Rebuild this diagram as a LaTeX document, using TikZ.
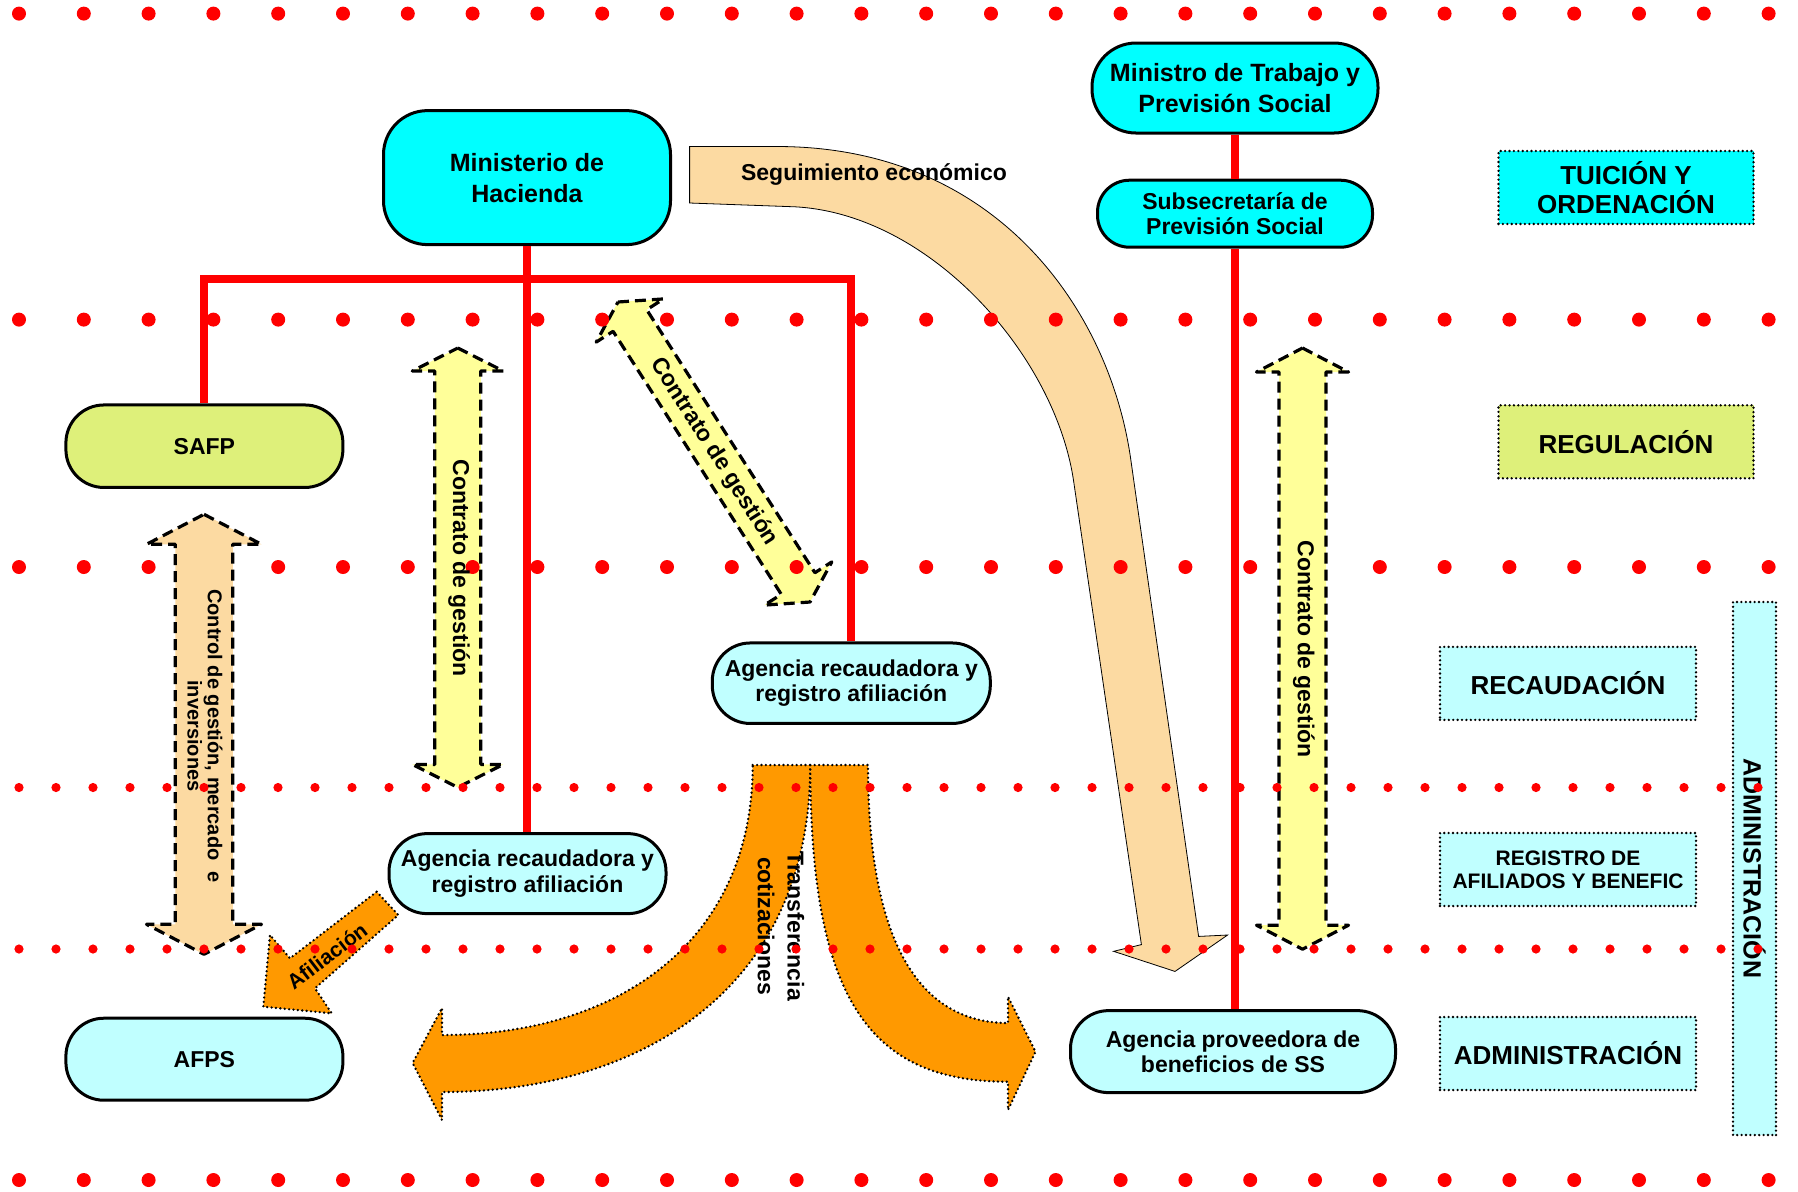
\documentclass[tikz,border=0pt]{standalone}
\usepackage{fontspec}
\setmainfont{Liberation Sans}
\definecolor{boxcyan}{RGB}{0,255,255}
\definecolor{boxlight}{RGB}{192,255,255}
\definecolor{boxlime}{RGB}{222,240,122}
\definecolor{arryellow}{RGB}{255,255,153}
\definecolor{arrtan}{RGB}{252,218,162}
\definecolor{arrorange}{RGB}{255,153,0}
\definecolor{dotred}{RGB}{255,0,0}

\tikzset{every picture/.style={line width=0.75pt}}
\tikzset{
	box/.style={draw, line width=1.5pt, rounded corners=19pt, align=center, inner sep=2pt, font=\bfseries\fontsize{11.5}{12.8}\selectfont},
	lbl/.style={draw, line width=1.3pt, dash pattern=on 0pt off 2.2pt, line cap=round, fill=boxlight, align=center, inner sep=0pt, font=\bfseries\fontsize{13}{14.7}\selectfont, minimum width=128pt, minimum height=36.5pt},
	link/.style={dotred, line width=4pt},
	dashedarrow/.style={draw, line width=1.6pt, dash pattern=on 5.5pt off 3pt, line join=round},
	dottedarrow/.style={draw, fill=arrorange, line width=1.3pt, dash pattern=on 0pt off 2.2pt, line cap=round, line join=round},
	rottext/.style={font=\bfseries\fontsize{11.5}{14.8}\selectfont, align=center, inner sep=0pt}
}

\begin{document}
\begin{tikzpicture}[x=0.5pt,y=0.5pt,yscale=-1]
	\useasboundingbox (0,0) rectangle (1798,1191);

	%Curve Arrow: Seguimiento economico
	\draw [fill=arrtan, line width=0.4pt] (689.6,146.5) -- (777,146.5) .. controls (997,146.5) and (1109.6,310.5) .. (1130.7,459) -- (1198.6,936.4) -- (1227.6,935) -- (1175,971.4) -- (1113.6,951.3) -- (1141.4,944.6) -- (1073.6,481) .. controls (1055,355) and (930,214) .. (795,206.8) -- (689.6,203) -- cycle ;
	%Double Arrow: diagonal contrato
	\draw [dashedarrow, fill=arryellow] (618,302) -- (663.6,298.9) -- (646.7,309.7) -- (814.9,572.7) -- (831.8,561.9) -- (810,602) -- (764.4,605.1) -- (781.3,594.3) -- (613.1,331.3) -- (596.2,342.1) -- cycle ;
	%Double Arrow: left contrato
	\draw [dashedarrow, fill=arryellow] (457.8,348) -- (503.3,371) -- (480.8,371) -- (480.8,764.4) -- (503.3,764.4) -- (457.8,787.4) -- (412.3,764.4) -- (434.8,764.4) -- (434.8,371) -- (412.3,371) -- cycle ;
	%Curve Arrow: transferencia (left)
	\draw [dottedarrow] (752.7,765) -- (810.3,765) .. controls (810.3,990) and (640,1092) .. (442,1092) -- (442,1120) -- (412.6,1063) -- (442,1008) -- (442,1035) .. controls (620,1035) and (752.7,940) .. (752.7,765) -- cycle ;
	%Curve Arrow: transferencia (right)
	\draw [dottedarrow] (810.3,765) -- (868,765) .. controls (868,960) and (930,1023) .. (1008,1023) -- (1008,996.7) -- (1035.5,1051.7) -- (1008,1110) -- (1008,1081.7) .. controls (870,1081.7) and (810.3,1000) .. (810.3,765) -- cycle ;
	%Arrow: afiliacion
	\draw [dottedarrow] (376.7,891.7) -- (398.3,915) -- (315,988.3) -- (331.7,1013.3) -- (263.3,1006.7) -- (270,935) -- (290,958.3) -- cycle ;

	%Big dots
	\foreach \y in {13.6,319.6,567,1180}
		\foreach \k in {0,...,27}
			\fill [dotred] (19+64.8*\k,\y) circle (3.5pt) ;

	%Double Arrow: control
	\draw [dashedarrow, fill=arrtan] (204,514.3) -- (261.5,544.3) -- (232.75,544.3) -- (232.75,924.3) -- (261.5,924.3) -- (204,954.3) -- (146.5,924.3) -- (175.25,924.3) -- (175.25,544.3) -- (146.5,544.3) -- cycle ;
	%Double Arrow: right contrato
	\draw [dashedarrow, fill=arryellow] (1302.5,348) -- (1348.5,372) -- (1326,372) -- (1326,925.2) -- (1348.5,925.2) -- (1302.5,949.2) -- (1256.5,925.2) -- (1279,925.2) -- (1279,372) -- (1256.5,372) -- cycle ;

	% Boxes
	\node [box, fill=boxcyan, rounded corners=22pt, font=\bfseries\fontsize{12.5}{15.5}\selectfont, minimum width=143.5pt, minimum height=67pt] (mh) at (527,177.6) {Ministerio de\\Hacienda};
	\node [box, fill=boxcyan, rounded corners=22pt, font=\bfseries\fontsize{12.5}{15.5}\selectfont, minimum width=143pt, minimum height=45pt] (mt) at (1235,88) {Ministro de Trabajo y\\Previsión Social};
	\node [box, fill=boxcyan, rounded corners=16pt, minimum width=137.5pt, minimum height=33.5pt] (sps) at (1235,213.7) {Subsecretaría de\\Previsión Social};
	\node [box, fill=boxlime, minimum width=138.5pt, minimum height=41.25pt] (safp) at (204.4,446.2) {SAFP};
	\node [box, fill=boxlight, minimum width=138.5pt, minimum height=41pt] (afps) at (204.4,1059.2) {AFPS};
	\node [box, fill=boxlight, minimum width=139pt, minimum height=40.25pt] (aru) at (851.3,683.2) {Agencia recaudadora y\\registro afiliación};
	\node [box, fill=boxlight, minimum width=138.5pt, minimum height=40pt] (arl) at (527.5,873.6) {Agencia recaudadora y\\registro afiliación};
	\node [box, fill=boxlight, minimum width=162.5pt, minimum height=41pt] (apb) at (1233,1051.6) {Agencia proveedora de\\beneficios de SS};

	% Red links
	\coordinate (bar) at (527,278.6);
	\draw [link] (mh.south) -- (mh.south |- arl.north) ;
	\draw [link] (safp.north) |- (bar) -| (aru.north) ;
	\draw [link] (mt.south) -- (sps.north) ;
	\draw [link] (sps.south) -- (sps.south |- apb.north) ;

	% Level labels
	\node [lbl, fill=boxcyan, minimum width=127.5pt] (tuicion) at (1626,187.5) {TUICIÓN Y\\ORDENACIÓN};
	\node [lbl, fill=boxlime, minimum width=127.5pt] (regul) at (1626,441.8) {REGULACIÓN};
	\node [lbl] (recaud) at (1568,683.4) {RECAUDACIÓN};
	\node [lbl, font=\bfseries\fontsize{10.5}{11.3}\selectfont] (registro) at (1568,869.5) {REGISTRO DE\\AFILIADOS Y BENEFIC};
	\node [lbl] (admin) at (1568,1053.5) {ADMINISTRACIÓN};
	\node [lbl, rotate=-90, minimum width=266.5pt, minimum height=21.5pt, font=\bfseries\fontsize{12.5}{14}\selectfont] (adminv) at (1754.5,868.5) {ADMINISTRACIÓN};

	% Text Node
	\node [rottext, font=\bfseries\fontsize{11.5}{13}\selectfont] (seg) at (874,174) {Seguimiento económico};
	% Text Node
	\node [rottext, rotate=-57.4] (cdgd) at (714,452) {Contrato de gestión};
	% Text Node
	\node [rottext, rotate=-90] (cdgl) at (459,568) {Contrato de gestión};
	% Text Node
	\node [rottext, rotate=-90] (cdgr) at (1303.8,649) {Contrato de gestión};
	% Text Node
	\node [rottext, rotate=-90, font=\bfseries\fontsize{10}{10.2}\selectfont] (ctrl) at (205,736) {Control de gestión, mercado\ \ e\\inversiones};
	% Text Node
	\node [rottext, rotate=-90] (transf) at (781,926) {Transferencia\\cotizaciones};
	% Text Node
	\node [rottext, rotate=37.5, font=\bfseries\fontsize{10.5}{12}\selectfont] (afil) at (327,956) {Afiliación};

	%Small dots
	\foreach \y in {787.5,949}
		\foreach \k in {0,...,47}
			\fill [dotred] (19+37*\k,\y) circle (2.3pt) ;
\end{tikzpicture}
\end{document}
